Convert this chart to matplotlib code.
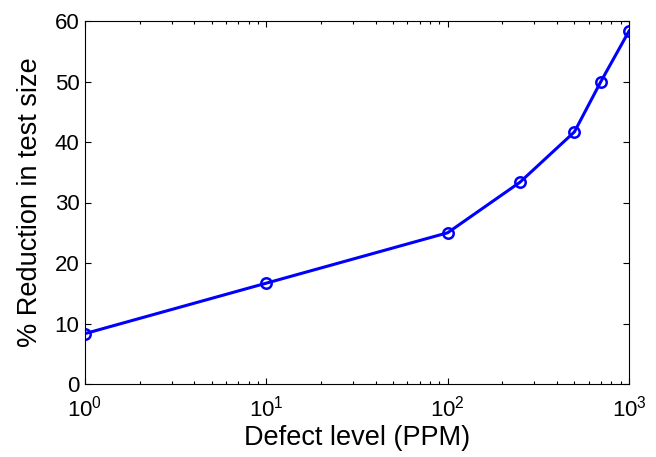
import matplotlib
matplotlib.use('Agg')
import matplotlib.pyplot as plt

# defect level (PPM) vs reduction in test size
defect_ppm = [1, 10, 100, 250, 500, 700, 1000]
reduction = [8.33, 16.67, 25.0, 33.33, 41.67, 50.0, 58.33]

plt.rcParams['font.family'] = ['Liberation Sans', 'DejaVu Sans']
plt.rcParams['mathtext.fontset'] = 'custom'
plt.rcParams['mathtext.rm'] = 'Liberation Sans'
plt.rcParams['mathtext.it'] = 'Liberation Sans:italic'
plt.rcParams['mathtext.bf'] = 'Liberation Sans:bold'

fig = plt.figure(figsize=(6.56, 4.57), dpi=100)
# axes box in pixels: left 85, right 629, top 21, bottom 384
ax = fig.add_axes([85/656, 1 - 384/457, (629-85)/656, (384-21)/457])

ax.plot(defect_ppm, reduction, color='#0000ff', linewidth=2.2, marker='o',
        markersize=7.5, markerfacecolor='none', markeredgewidth=1.8)

ax.set_xscale('log')
ax.set_xlim(1, 1000)
ax.set_ylim(0, 60)
ax.set_yticks([0, 10, 20, 30, 40, 50, 60])

ax.tick_params(which='both', direction='in', top=True, right=True, labelsize=16)
ax.tick_params(which='major', length=4.5, width=0.8)
ax.tick_params(which='minor', length=2.5, width=0.8)
ax.tick_params(axis='x', pad=8)
ax.tick_params(axis='y', pad=4)
for s in ax.spines.values():
    s.set_linewidth(0.8)

ax.set_xlabel('Defect level (PPM)', fontsize=19.5, labelpad=3)
ax.set_ylabel('% Reduction in test size', fontsize=19.5, labelpad=8)

fig.savefig('out.png', dpi=100)
